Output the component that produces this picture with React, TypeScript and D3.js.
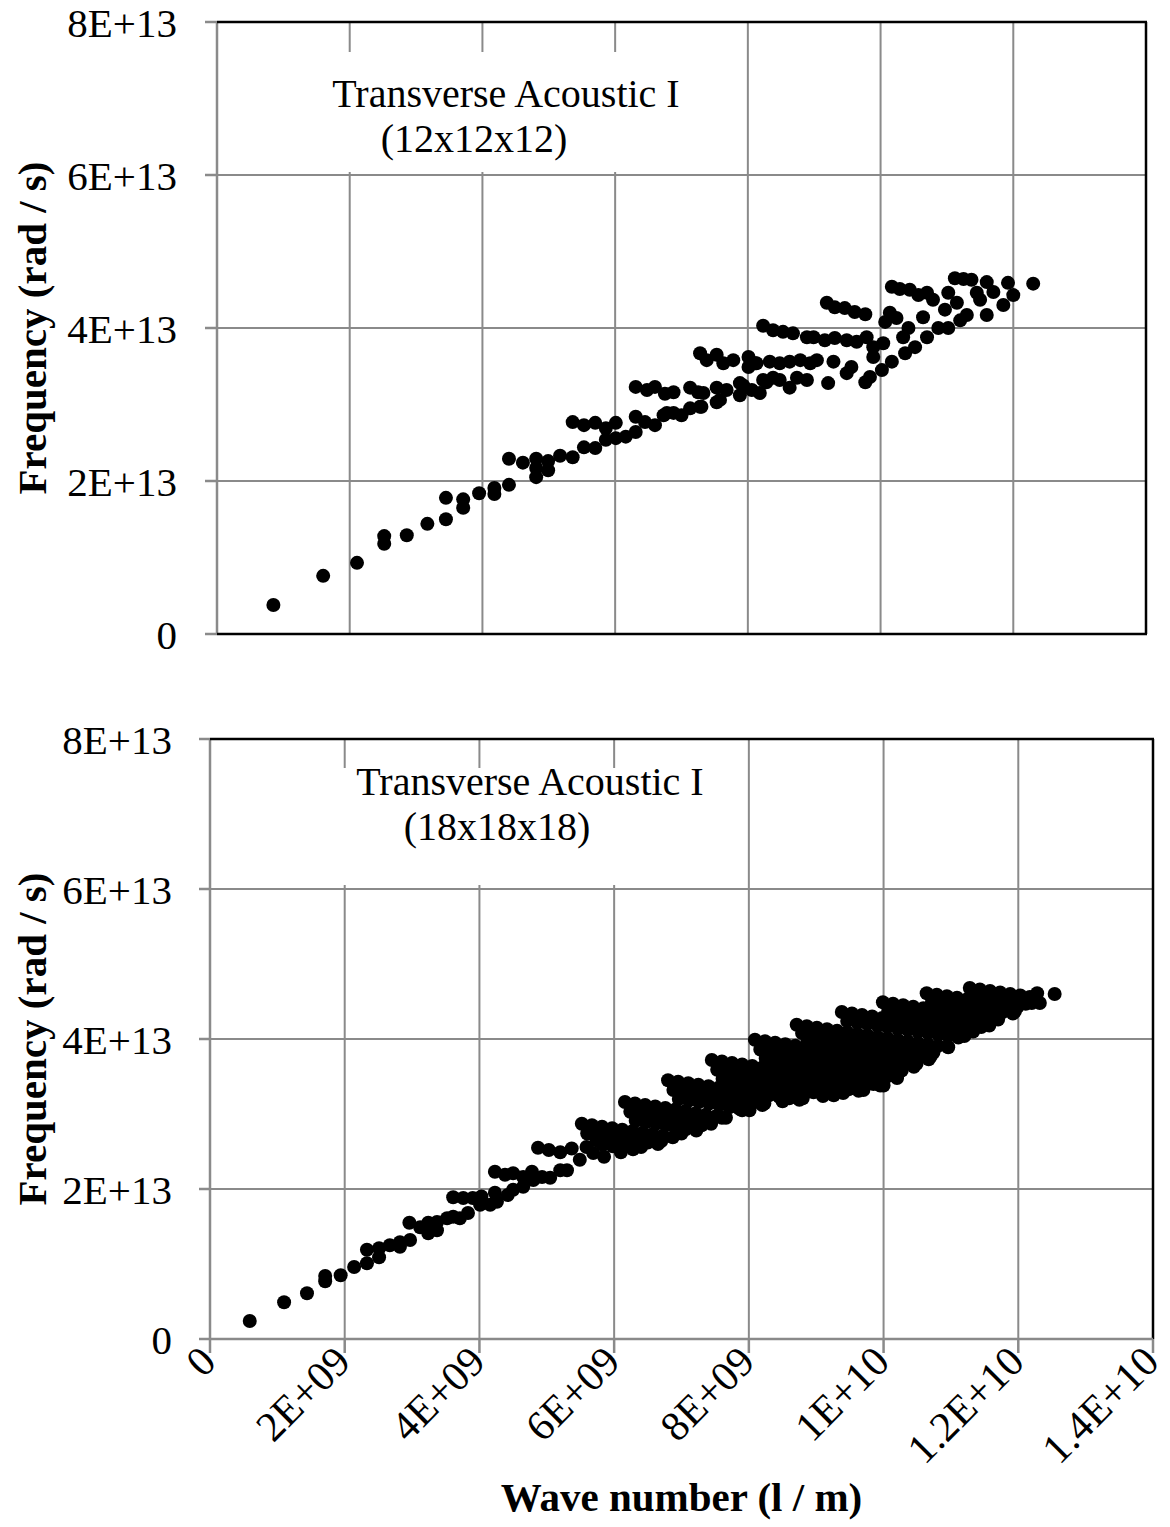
import React, { useEffect, useRef } from 'react';
import * as d3 from 'd3';

// wave number in units of 1E9 (1/m), frequency in units of 1E13 (rad/s)
const xTicks = [0, 2e9, 4e9, 6e9, 8e9, 1e10, 1.2e10, 1.4e10];
const xTickLabels = ['0', '2E+09', '4E+09', '6E+09', '8E+09', '1E+10', '1.2E+10', '1.4E+10'];
const yTicks = [0, 2e13, 4e13, 6e13, 8e13];
const yTickLabels = ['0', '2E+13', '4E+13', '6E+13', '8E+13'];

// 12x12x12
const topPoints = [
  [0.85, 0.38], [1.60, 0.76], [2.11, 0.93], [2.52, 1.28], [2.52, 1.18], [2.86, 1.29], [3.17, 1.44],
  [3.45, 1.78], [3.45, 1.50], [3.71, 1.76], [3.71, 1.65], [3.95, 1.84], [4.18, 1.91], [4.18, 1.83], [4.40, 1.95],
  [4.40, 2.29], [4.61, 2.24], [4.81, 2.29], [4.81, 2.17], [4.81, 2.05], [4.99, 2.26], [4.99, 2.14], [5.17, 2.33], [5.36, 2.31],
  [5.36, 2.77], [5.53, 2.73], [5.53, 2.44], [5.70, 2.76], [5.70, 2.43], [5.86, 2.69], [5.86, 2.54], [6.01, 2.76], [6.01, 2.56],
  [6.16, 2.58], [6.31, 2.84], [6.31, 2.64], [6.45, 2.77], [6.60, 2.73], [6.73, 2.86], [6.88, 2.89], [6.78, 2.89], [7.00, 2.86],
  [6.31, 3.23], [6.48, 3.19], [6.60, 3.23], [6.75, 3.14], [6.88, 3.16], [7.13, 3.22], [7.25, 3.16], [7.13, 2.95], [7.28, 2.97],
  [7.30, 2.97], [7.33, 3.15], [7.53, 3.22], [7.53, 3.03], [7.58, 3.06], [7.68, 3.19], [7.88, 3.12], [7.93, 3.25],
  [7.28, 3.67], [7.38, 3.58], [7.53, 3.65], [7.63, 3.54], [7.78, 3.58], [8.01, 3.62], [8.01, 3.49], [8.11, 3.54], [8.13, 3.54],
  [8.33, 3.56], [8.48, 3.54], [8.63, 3.56], [8.79, 3.58], [8.94, 3.54], [9.04, 3.58], [9.29, 3.56],
  [7.88, 3.28], [8.06, 3.19], [8.18, 3.15], [8.23, 3.32], [8.28, 3.29], [8.38, 3.35], [8.48, 3.32], [8.63, 3.22], [8.74, 3.35], [8.89, 3.32],
  [9.21, 3.28], [9.49, 3.41], [9.56, 3.49],
  [8.23, 4.03], [8.38, 3.97], [8.53, 3.95], [8.68, 3.93], [8.89, 3.88], [8.99, 3.88], [9.16, 3.84], [9.31, 3.87], [9.49, 3.84], [9.64, 3.82],
  [9.79, 3.88], [9.89, 3.75], [9.89, 3.62], [10.04, 3.80], [10.34, 3.88], [10.42, 4.00],
  [9.19, 4.33], [9.31, 4.27], [9.46, 4.26], [9.61, 4.21], [9.77, 4.18], [10.07, 4.08], [10.14, 4.20], [10.24, 4.13], [10.64, 4.14],
  [9.77, 3.29], [9.84, 3.36], [10.02, 3.45], [10.17, 3.56], [10.37, 3.67], [10.52, 3.75], [10.70, 3.88], [10.87, 4.00], [11.02, 4.00],
  [11.20, 4.10], [11.30, 4.17], [11.60, 4.17], [11.85, 4.30],
  [10.17, 4.54], [10.29, 4.51], [10.44, 4.50], [10.57, 4.43], [10.70, 4.46], [10.79, 4.37], [10.97, 4.24], [11.02, 4.46], [11.15, 4.33],
  [11.12, 4.65], [11.25, 4.64], [11.37, 4.63], [11.45, 4.46], [11.50, 4.37], [11.60, 4.60], [11.70, 4.47], [11.92, 4.59], [12.00, 4.43],
  [12.30, 4.58],
];

// 18x18x18
const bottomLow = [
  [0.59, 0.24], [1.10, 0.49], [1.44, 0.61], [1.71, 0.84], [1.71, 0.77], [1.94, 0.85], [2.14, 0.96], [2.33, 1.01], [2.33, 1.19],
  [2.51, 1.21], [2.51, 1.09], [2.67, 1.25], [2.82, 1.29], [2.82, 1.23], [2.97, 1.32], [2.96, 1.55], [3.12, 1.49], [3.24, 1.55],
  [3.24, 1.41], [3.37, 1.56], [3.37, 1.45], [3.52, 1.61], [3.61, 1.63], [3.71, 1.61], [3.83, 1.68], [3.61, 1.89], [3.76, 1.88],
  [3.90, 1.88], [4.03, 1.90], [4.01, 1.79], [4.16, 1.79], [4.26, 1.83], [4.23, 1.95], [4.42, 1.92], [4.50, 1.99], [4.65, 2.03],
  [4.80, 2.12], [4.93, 2.16], [5.05, 2.15], [5.20, 2.25], [5.30, 2.25], [4.23, 2.23], [4.38, 2.19], [4.50, 2.21], [4.65, 2.16],
  [4.78, 2.23], [4.87, 2.55], [5.03, 2.52], [5.20, 2.49], [5.37, 2.54], [5.49, 2.39], [5.59, 2.56], [5.69, 2.48], [5.74, 2.65],
];
const strip1 = [
  [5.52, 2.87], [5.67, 2.85], [5.82, 2.83], [5.97, 2.81], [6.12, 2.79], [6.27, 2.77], [6.42, 2.75], [6.57, 2.73], [6.72, 2.71], [6.87, 2.69],
  [5.60, 2.74], [5.75, 2.72], [5.90, 2.70], [6.05, 2.68], [6.20, 2.66], [6.35, 2.64], [6.50, 2.62], [6.65, 2.60],
  [5.83, 2.59], [5.98, 2.57], [6.13, 2.55], [6.28, 2.53],
];
const strip2 = [
  [6.16, 3.16], [6.31, 3.14], [6.46, 3.12], [6.61, 3.10], [6.76, 3.08], [6.91, 3.06], [7.06, 3.04], [7.21, 3.01], [7.36, 2.99], [7.51, 2.97], [7.66, 2.95],
  [6.24, 3.03], [6.39, 3.01], [6.54, 2.99], [6.69, 2.97], [6.84, 2.95], [6.99, 2.93], [7.14, 2.91], [7.29, 2.89], [7.44, 2.87],
  [6.32, 2.91], [6.47, 2.89], [6.62, 2.87], [6.77, 2.85], [6.92, 2.82], [7.07, 2.80], [7.22, 2.78],
];
const strip3 = [
  [6.80, 3.45], [6.95, 3.43], [7.10, 3.41], [7.25, 3.39], [7.40, 3.37], [7.55, 3.35], [7.70, 3.33], [7.85, 3.31], [8.00, 3.29],
  [8.15, 3.27], [8.30, 3.25], [8.45, 3.23], [8.60, 3.21], [8.75, 3.19],
  [6.88, 3.32], [7.03, 3.30], [7.18, 3.28], [7.33, 3.26], [7.48, 3.24], [7.63, 3.22], [7.78, 3.20], [7.93, 3.18], [8.08, 3.16], [8.23, 3.14],
  [6.96, 3.20], [7.11, 3.18], [7.26, 3.16], [7.41, 3.14], [7.56, 3.12], [7.71, 3.09], [7.86, 3.07], [8.01, 3.05],
];
const strip4 = [
  [7.45, 3.72], [7.60, 3.70], [7.75, 3.68], [7.90, 3.66], [8.05, 3.64], [8.20, 3.62], [8.35, 3.60], [8.50, 3.58], [8.65, 3.56],
  [8.80, 3.54], [8.95, 3.52], [9.10, 3.50], [9.25, 3.48], [9.40, 3.46], [9.55, 3.44], [9.70, 3.42], [9.85, 3.40], [10.00, 3.38],
  [7.53, 3.59], [7.68, 3.57], [7.83, 3.55], [7.98, 3.53], [8.13, 3.51], [8.28, 3.49], [8.43, 3.47], [8.58, 3.45], [8.73, 3.43],
  [8.88, 3.41], [9.03, 3.39], [9.18, 3.37], [9.33, 3.35], [9.48, 3.33], [9.63, 3.31],
  [7.61, 3.47], [7.76, 3.45], [7.91, 3.43], [8.06, 3.41], [8.21, 3.39], [8.36, 3.37], [8.51, 3.35], [8.66, 3.33], [8.81, 3.31],
  [8.96, 3.29], [9.11, 3.27], [9.26, 3.25],
];
const strip5 = [
  [8.09, 3.99], [8.24, 3.97], [8.39, 3.95], [8.54, 3.93], [8.69, 3.91], [8.84, 3.89], [8.99, 3.87], [9.14, 3.85], [9.29, 3.83],
  [9.44, 3.81], [9.59, 3.79], [9.74, 3.77], [9.89, 3.75], [10.04, 3.73], [10.19, 3.71], [10.34, 3.69], [10.49, 3.67],
  [8.17, 3.86], [8.32, 3.84], [8.47, 3.82], [8.62, 3.80], [8.77, 3.78], [8.92, 3.76], [9.07, 3.74], [9.22, 3.72], [9.37, 3.70],
  [9.52, 3.68], [9.67, 3.66], [9.82, 3.64], [9.97, 3.62], [10.12, 3.60], [10.27, 3.58],
  [8.25, 3.74], [8.40, 3.72], [8.55, 3.70], [8.70, 3.68], [8.85, 3.66], [9.00, 3.64], [9.15, 3.62], [9.30, 3.60], [9.45, 3.58],
  [9.60, 3.56], [9.75, 3.54], [9.90, 3.52], [10.05, 3.50], [10.20, 3.48],
];
const strip6 = [
  [8.71, 4.19], [8.86, 4.17], [9.01, 4.15], [9.16, 4.13], [9.31, 4.11], [9.46, 4.09], [9.61, 4.07], [9.76, 4.05], [9.91, 4.03],
  [10.06, 4.01], [10.21, 3.99], [10.36, 3.97], [10.51, 3.95], [10.66, 3.93], [10.81, 3.91], [10.96, 3.89],
  [8.79, 4.08], [8.94, 4.06], [9.09, 4.04], [9.24, 4.02], [9.39, 4.00], [9.54, 3.98], [9.69, 3.96], [9.84, 3.94], [9.99, 3.92],
  [10.14, 3.90], [10.29, 3.88], [10.44, 3.86], [10.59, 3.84], [10.74, 3.82],
  [8.87, 3.97], [9.02, 3.95], [9.17, 3.93], [9.32, 3.91], [9.47, 3.89], [9.62, 3.87], [9.77, 3.85], [9.92, 3.83], [10.07, 3.81],
  [10.22, 3.79], [10.37, 3.77], [10.52, 3.75], [10.67, 3.73],
];
const strip7 = [
  [9.38, 4.36], [9.53, 4.34], [9.68, 4.32], [9.83, 4.30], [9.98, 4.28], [10.13, 4.26], [10.28, 4.24], [10.43, 4.22], [10.58, 4.20],
  [10.73, 4.18], [10.88, 4.16], [11.03, 4.14], [11.18, 4.12], [11.33, 4.10],
  [9.46, 4.24], [9.61, 4.22], [9.76, 4.20], [9.91, 4.18], [10.06, 4.16], [10.21, 4.14], [10.36, 4.12], [10.51, 4.10], [10.66, 4.08],
  [10.81, 4.06], [10.96, 4.04], [11.11, 4.02],
];
const strip8 = [
  [9.99, 4.49], [10.14, 4.47], [10.29, 4.45], [10.44, 4.43], [10.59, 4.41], [10.74, 4.39], [10.89, 4.37], [11.04, 4.35], [11.19, 4.33],
  [11.34, 4.31], [11.49, 4.29], [11.64, 4.27],
  [10.07, 4.38], [10.22, 4.36], [10.37, 4.34], [10.52, 4.32], [10.67, 4.30], [10.82, 4.28], [10.97, 4.26], [11.12, 4.24], [11.27, 4.22],
  [11.42, 4.20], [11.57, 4.18],
];
const strip9 = [
  [10.64, 4.61], [10.79, 4.59], [10.94, 4.57], [11.09, 4.55], [11.24, 4.53], [11.39, 4.51], [11.54, 4.49], [11.69, 4.47], [11.84, 4.45], [11.99, 4.43],
  [10.72, 4.50], [10.87, 4.48], [11.02, 4.46], [11.17, 4.44], [11.32, 4.42], [11.47, 4.40], [11.62, 4.38], [11.77, 4.36], [11.92, 4.34],
];
const strip10 = [
  [11.28, 4.68], [11.43, 4.66], [11.58, 4.64], [11.73, 4.62], [11.88, 4.60], [12.03, 4.58], [12.17, 4.56],
  [11.36, 4.57], [11.51, 4.55], [11.66, 4.53], [11.81, 4.51], [11.96, 4.49], [12.11, 4.47],
  [12.28, 4.61], [12.32, 4.48], [12.54, 4.60],
];
const bottomEdge = [
  [5.85, 2.43], [6.10, 2.49], [6.40, 2.56], [6.70, 2.64], [7.00, 2.74], [7.30, 2.85], [7.60, 2.95], [7.90, 3.05], [8.20, 3.12],
  [8.50, 3.17], [8.80, 3.21], [9.10, 3.24], [9.40, 3.28], [9.70, 3.32], [9.95, 3.38], [10.20, 3.50], [10.45, 3.63], [10.70, 3.77],
  [10.95, 3.90], [11.20, 4.04], [11.45, 4.16], [11.70, 4.26], [11.95, 4.37], [12.20, 4.48],
];
const bottomPoints = [bottomLow, strip1, strip2, strip3, strip4, strip5, strip6, strip7, strip8, strip9, strip10, bottomEdge];

const FONT = '"Liberation Serif", "Times New Roman", serif';
const GRID = '#8a8a8a';

function drawPanel(svg, p) {
  const x = d3.scaleLinear().domain([0, 1.4e10]).range([p.left, p.right]);
  const y = d3.scaleLinear().domain([0, 8e13]).range([p.bottom, p.top]);
  const g = svg.append('g');

  // gridlines
  g.selectAll(null).data(xTicks.slice(1, -1)).enter().append('line')
    .attr('x1', d => x(d)).attr('x2', d => x(d))
    .attr('y1', p.top).attr('y2', p.bottom)
    .attr('stroke', GRID).attr('stroke-width', 2);
  g.selectAll(null).data(yTicks.slice(1)).enter().append('line')
    .attr('x1', p.left).attr('x2', p.right)
    .attr('y1', d => y(d)).attr('y2', d => y(d))
    .attr('stroke', GRID).attr('stroke-width', 2);

  // white box behind the label
  g.append('rect')
    .attr('x', p.box[0]).attr('y', p.box[1])
    .attr('width', p.box[2]).attr('height', p.box[3])
    .attr('fill', '#fff');

  // y ticks + axis (grey)
  g.selectAll(null).data(yTicks).enter().append('line')
    .attr('x1', p.left - p.tick).attr('x2', p.left)
    .attr('y1', d => y(d)).attr('y2', d => y(d))
    .attr('stroke', GRID).attr('stroke-width', 2.5);
  g.append('line')
    .attr('x1', p.left).attr('x2', p.left).attr('y1', p.top).attr('y2', p.bottom)
    .attr('stroke', GRID).attr('stroke-width', 2.5);

  // frame: top, right black
  g.append('line').attr('x1', p.left).attr('x2', p.right + 1).attr('y1', p.top).attr('y2', p.top)
    .attr('stroke', '#000').attr('stroke-width', 2.5);
  g.append('line').attr('x1', p.right).attr('x2', p.right).attr('y1', p.top).attr('y2', p.bottom)
    .attr('stroke', '#000').attr('stroke-width', 2.5);

  if (p.xAxis) {
    g.selectAll(null).data(xTicks).enter().append('line')
      .attr('x1', d => x(d)).attr('x2', d => x(d))
      .attr('y1', p.bottom).attr('y2', p.bottom + 14)
      .attr('stroke', GRID).attr('stroke-width', 2.5);
    g.append('line').attr('x1', p.left).attr('x2', p.right).attr('y1', p.bottom).attr('y2', p.bottom)
      .attr('stroke', GRID).attr('stroke-width', 2.5);
    g.selectAll(null).data(xTicks).enter().append('text')
      .attr('transform', d => `translate(${x(d) + 8},${p.bottom + 25}) rotate(-45)`)
      .attr('text-anchor', 'end')
      .attr('font-family', FONT).attr('font-size', 42)
      .text((d, i) => xTickLabels[i]);
    g.append('text')
      .attr('x', (p.left + p.right) / 2).attr('y', 1511)
      .attr('text-anchor', 'middle')
      .attr('font-family', FONT).attr('font-size', 41).attr('font-weight', 'bold')
      .text('Wave number (l / m)');
  } else {
    g.append('line').attr('x1', p.left).attr('x2', p.right + 1).attr('y1', p.bottom).attr('y2', p.bottom)
      .attr('stroke', '#000').attr('stroke-width', 2.5);
  }

  // dots
  p.series.forEach(s => {
    g.selectAll(null).data(s).enter().append('circle')
      .attr('cx', d => x(d[0] * 1e9))
      .attr('cy', d => y(d[1] * 1e13))
      .attr('r', 7)
      .attr('fill', '#000');
  });

  // y tick labels
  g.selectAll(null).data(yTicks).enter().append('text')
    .attr('x', p.left - p.labelGap)
    .attr('y', d => y(d) + 15)
    .attr('text-anchor', 'end')
    .attr('font-family', FONT).attr('font-size', 41)
    .text((d, i) => yTickLabels[i]);

  // y title
  g.append('text')
    .attr('transform', `translate(46,${(p.top + p.bottom) / 2}) rotate(-90)`)
    .attr('text-anchor', 'middle')
    .attr('font-family', FONT).attr('font-size', 41).attr('font-weight', 'bold')
    .text('Frequency (rad / s)');

  // label
  p.label.forEach(l => {
    g.append('text')
      .attr('x', l[1]).attr('y', l[2])
      .attr('text-anchor', 'middle')
      .attr('font-family', FONT).attr('font-size', 40)
      .text(l[0]);
  });
}

export default function App() {
  const ref = useRef(null);

  useEffect(() => {
    const svg = d3.select(ref.current);
    svg.selectAll('*').remove();

    drawPanel(svg, {
      left: 217, right: 1146, top: 22, bottom: 634,
      tick: 12, labelGap: 40, xAxis: false,
      box: [322, 52, 372, 120],
      series: [topPoints],
      label: [['Transverse Acoustic I', 506, 107], ['(12x12x12)', 474, 152]],
    });
    drawPanel(svg, {
      left: 210, right: 1153, top: 739, bottom: 1339,
      tick: 11, labelGap: 38, xAxis: true,
      box: [340, 768, 378, 117],
      series: bottomPoints,
      label: [['Transverse Acoustic I', 530, 795], ['(18x18x18)', 497, 840]],
    });
  }, []);

  return (
    <div style={{ position: 'absolute', left: 0, top: 0 }}>
      <svg ref={ref} width={1170} height={1527} style={{ display: 'block', background: '#fff' }} />
    </div>
  );
}
